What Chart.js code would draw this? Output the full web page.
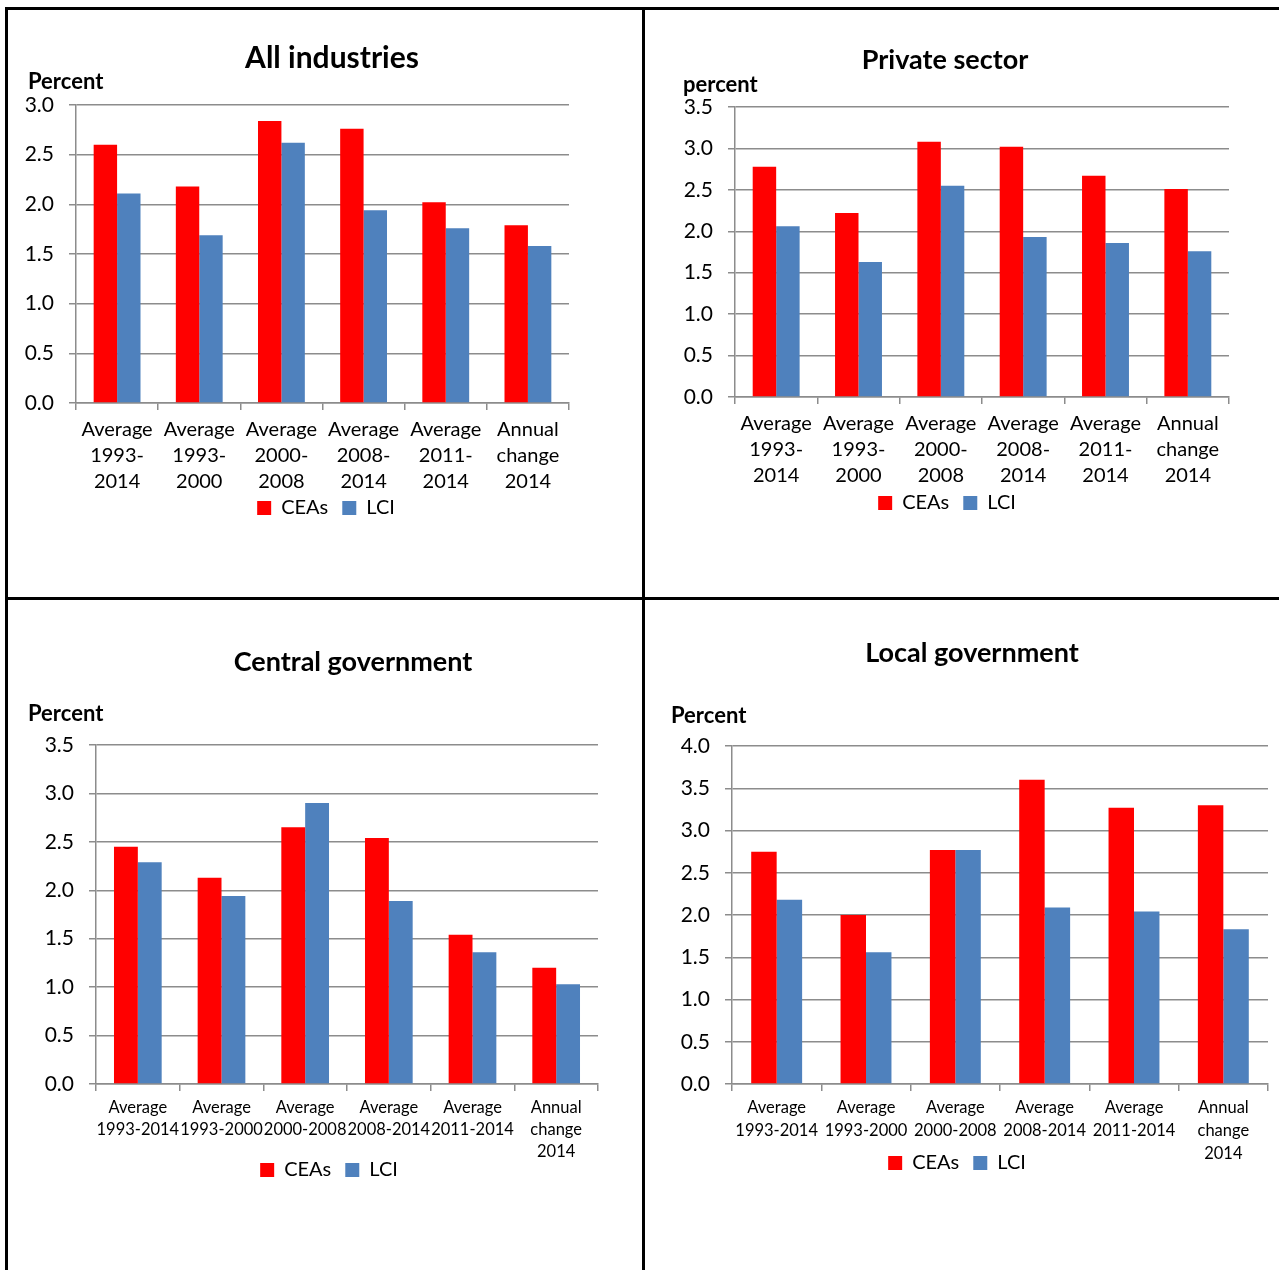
<!DOCTYPE html>
<html>
<head>
<meta charset="utf-8">
<script src="https://cdn.jsdelivr.net/npm/chart.js@4.4.1/dist/chart.umd.min.js"></script>
<style>
  body { margin: 0; background: #fff; width: 1279px; height: 1270px; position: relative; overflow: hidden; }
  canvas { position: absolute; }
  .rule { position: absolute; background: #000; z-index: 2; }
</style>
</head>
<body>
<canvas id="c1"></canvas>
<canvas id="c2"></canvas>
<canvas id="c3"></canvas>
<canvas id="c4"></canvas>
<div class="rule" style="left:5px;top:7px;width:3px;height:1263px"></div>
<div class="rule" style="left:5px;top:7px;width:1274px;height:3px"></div>
<div class="rule" style="left:642px;top:7px;width:3px;height:1263px"></div>
<div class="rule" style="left:5px;top:597px;width:1274px;height:3px"></div>
<script>
// categories, two ways of wrapping them
const catsWrapped = [
  ["Average", "1993-", "2014"], ["Average", "1993-", "2000"], ["Average", "2000-", "2008"],
  ["Average", "2008-", "2014"], ["Average", "2011-", "2014"], ["Annual", "change", "2014"]
];
const catsWide = [
  ["Average", "1993-2014"], ["Average", "1993-2000"], ["Average", "2000-2008"],
  ["Average", "2008-2014"], ["Average", "2011-2014"], ["Annual", "change", "2014"]
];

const seriesNames = ["CEAs", "LCI"];

const allCEAs = [2.60, 2.18, 2.84, 2.76, 2.02, 1.79];
const allLCI = [2.11, 1.69, 2.62, 1.94, 1.76, 1.58];

const privCEAs = [2.78, 2.22, 3.08, 3.02, 2.67, 2.51];
const privLCI = [2.06, 1.63, 2.55, 1.93, 1.86, 1.76];

const centCEAs = [2.45, 2.13, 2.65, 2.54, 1.54, 1.20];
const centLCI = [2.29, 1.94, 2.90, 1.89, 1.36, 1.03];

const localCEAs = [2.75, 2.00, 2.77, 3.60, 3.27, 3.30];
const localLCI = [2.18, 1.56, 2.77, 2.09, 2.04, 1.83];

const titles = ["All industries", "Private sector", "Central government", "Local government"];
const unitLabels = ["Percent", "percent", "Percent", "Percent"];
const yMaxes = [3.0, 3.5, 3.5, 4.0];

const red = "#ff0000";
const blue = "#4f81bd";
const gray = "#8c8c8c";

const legendPad = 14, legendFont = 20;
const tickLen = 7;

Chart.defaults.font.family = "Lato";
Chart.defaults.color = "#000";

// title + unit label, and puts the legend where the original has it
const panelText = {
  id: "panelText",
  afterLayout(chart, args, o) {
    const lg = chart.legend;
    if (!lg) return;
    const dy = o.ly - (lg.top + legendPad + legendFont / 2);
    lg.top += dy;
    lg.bottom += dy;
  },
  afterDraw(chart, args, o) {
    const ctx = chart.ctx;
    ctx.save();
    ctx.fillStyle = "#000";
    ctx.textBaseline = "middle";
    ctx.font = "bold " + o.titleSize + "px Lato";
    ctx.textAlign = "center";
    ctx.fillText(o.title, o.tx, o.ty);
    ctx.font = "bold 22px Lato";
    ctx.textAlign = "left";
    ctx.fillText(o.unit, o.ux, o.uy);
    ctx.restore();
  }
};

// page geometry: canvas box [left, top, w, h], plot area [left, top, right, bottom]
const panels = [
  { id: "c1", labels: catsWrapped, cea: allCEAs, lci: allLCI, box: [8, 10, 634, 587], area: [76, 105, 569, 403],
    titleAt: [332, 58], titleSize: 30, unitAt: [28, 82], legendAt: [326, 508], firstLine: 430, lineH: 26, xFont: 20 },
  { id: "c2", labels: catsWrapped, cea: privCEAs, lci: privLCI, box: [646, 10, 633, 587], area: [735, 107, 1229, 397],
    titleAt: [945, 60], titleSize: 27, unitAt: [683, 85], legendAt: [947, 503], firstLine: 424, lineH: 26, xFont: 20 },
  { id: "c3", labels: catsWide, cea: centCEAs, lci: centLCI, box: [8, 600, 634, 670], area: [96, 745, 598, 1084],
    titleAt: [353, 662], titleSize: 27, unitAt: [28, 714], legendAt: [329, 1170], firstLine: 1108, lineH: 22, xFont: 16.5 },
  { id: "c4", labels: catsWide, cea: localCEAs, lci: localLCI, box: [646, 600, 633, 670], area: [732, 746, 1268, 1084],
    titleAt: [972, 653], titleSize: 27, unitAt: [671, 716], legendAt: [956, 1163], firstLine: 1108, lineH: 23, xFont: 16.5 }
];

panels.forEach(function (p, i) {
  const [cx, cy, cw, ch] = p.box;
  const [L, T, R, B] = p.area;
  const canvas = document.getElementById(p.id);
  canvas.width = cw;
  canvas.height = ch;
  canvas.style.left = cx + "px";
  canvas.style.top = cy + "px";

  // legend is centred on the layout box, so widen the box on either side as needed
  const c = p.legendAt[0];
  let legLeft = Math.max(cx, 2 * c - (cx + cw));
  let legRight = 2 * c - legLeft;
  if (legRight < R) { legRight = R; legLeft = Math.max(cx, 2 * c - R); }

  const legendH = legendFont + legendPad + 10;
  const tickPad = p.firstLine - B - tickLen - p.lineH / 2;
  const xH = tickLen + tickPad + 3 * p.lineH + 2;

  new Chart(canvas.getContext("2d"), {
    type: "bar",
    data: {
      labels: p.labels,
      datasets: [
        { label: seriesNames[0], data: p.cea, backgroundColor: red, borderWidth: 0, categoryPercentage: 0.57, barPercentage: 1 },
        { label: seriesNames[1], data: p.lci, backgroundColor: blue, borderWidth: 0, categoryPercentage: 0.57, barPercentage: 1 }
      ]
    },
    plugins: [panelText],
    options: {
      responsive: false,
      animation: false,
      layout: {
        padding: { left: legLeft - cx, right: cx + cw - legRight, top: T - cy, bottom: cy + ch - (B + xH + legendH) }
      },
      plugins: {
        legend: {
          position: "bottom",
          labels: { boxWidth: 14, boxHeight: 14, padding: legendPad, color: "#000", font: { family: "Lato", size: legendFont } }
        },
        tooltip: { enabled: false },
        panelText: {
          title: titles[i], unit: unitLabels[i], titleSize: p.titleSize,
          tx: p.titleAt[0] - cx, ty: p.titleAt[1] - cy,
          ux: p.unitAt[0] - cx, uy: p.unitAt[1] - cy,
          ly: p.legendAt[1] - cy
        }
      },
      scales: {
        x: {
          grid: { offset: true, drawOnChartArea: false, tickLength: tickLen, color: gray, lineWidth: 1.5 },
          border: { color: gray, width: 1.5 },
          ticks: {
            color: "#000", maxRotation: 0, autoSkip: false, padding: tickPad,
            font: { family: "Lato", size: p.xFont, lineHeight: p.lineH / p.xFont }
          },
          afterFit: function (s) { s.height = xH; }
        },
        y: {
          min: 0, max: yMaxes[i],
          ticks: { stepSize: 0.5, padding: 15, color: "#000", font: { family: "Lato", size: 21 },
            callback: function (v) { return v.toFixed(1); } },
          grid: { color: gray, lineWidth: 1.5, tickLength: tickLen },
          border: { color: gray, width: 1.5 },
          afterFit: function (s) { s.width = L - legLeft; }
        },
        y2: {
          position: "right",
          grid: { display: false, drawTicks: false },
          border: { display: false },
          ticks: { display: false },
          afterFit: function (s) { s.width = legRight - R; }
        }
      }
    }
  });
});
</script>
</body>
</html>
